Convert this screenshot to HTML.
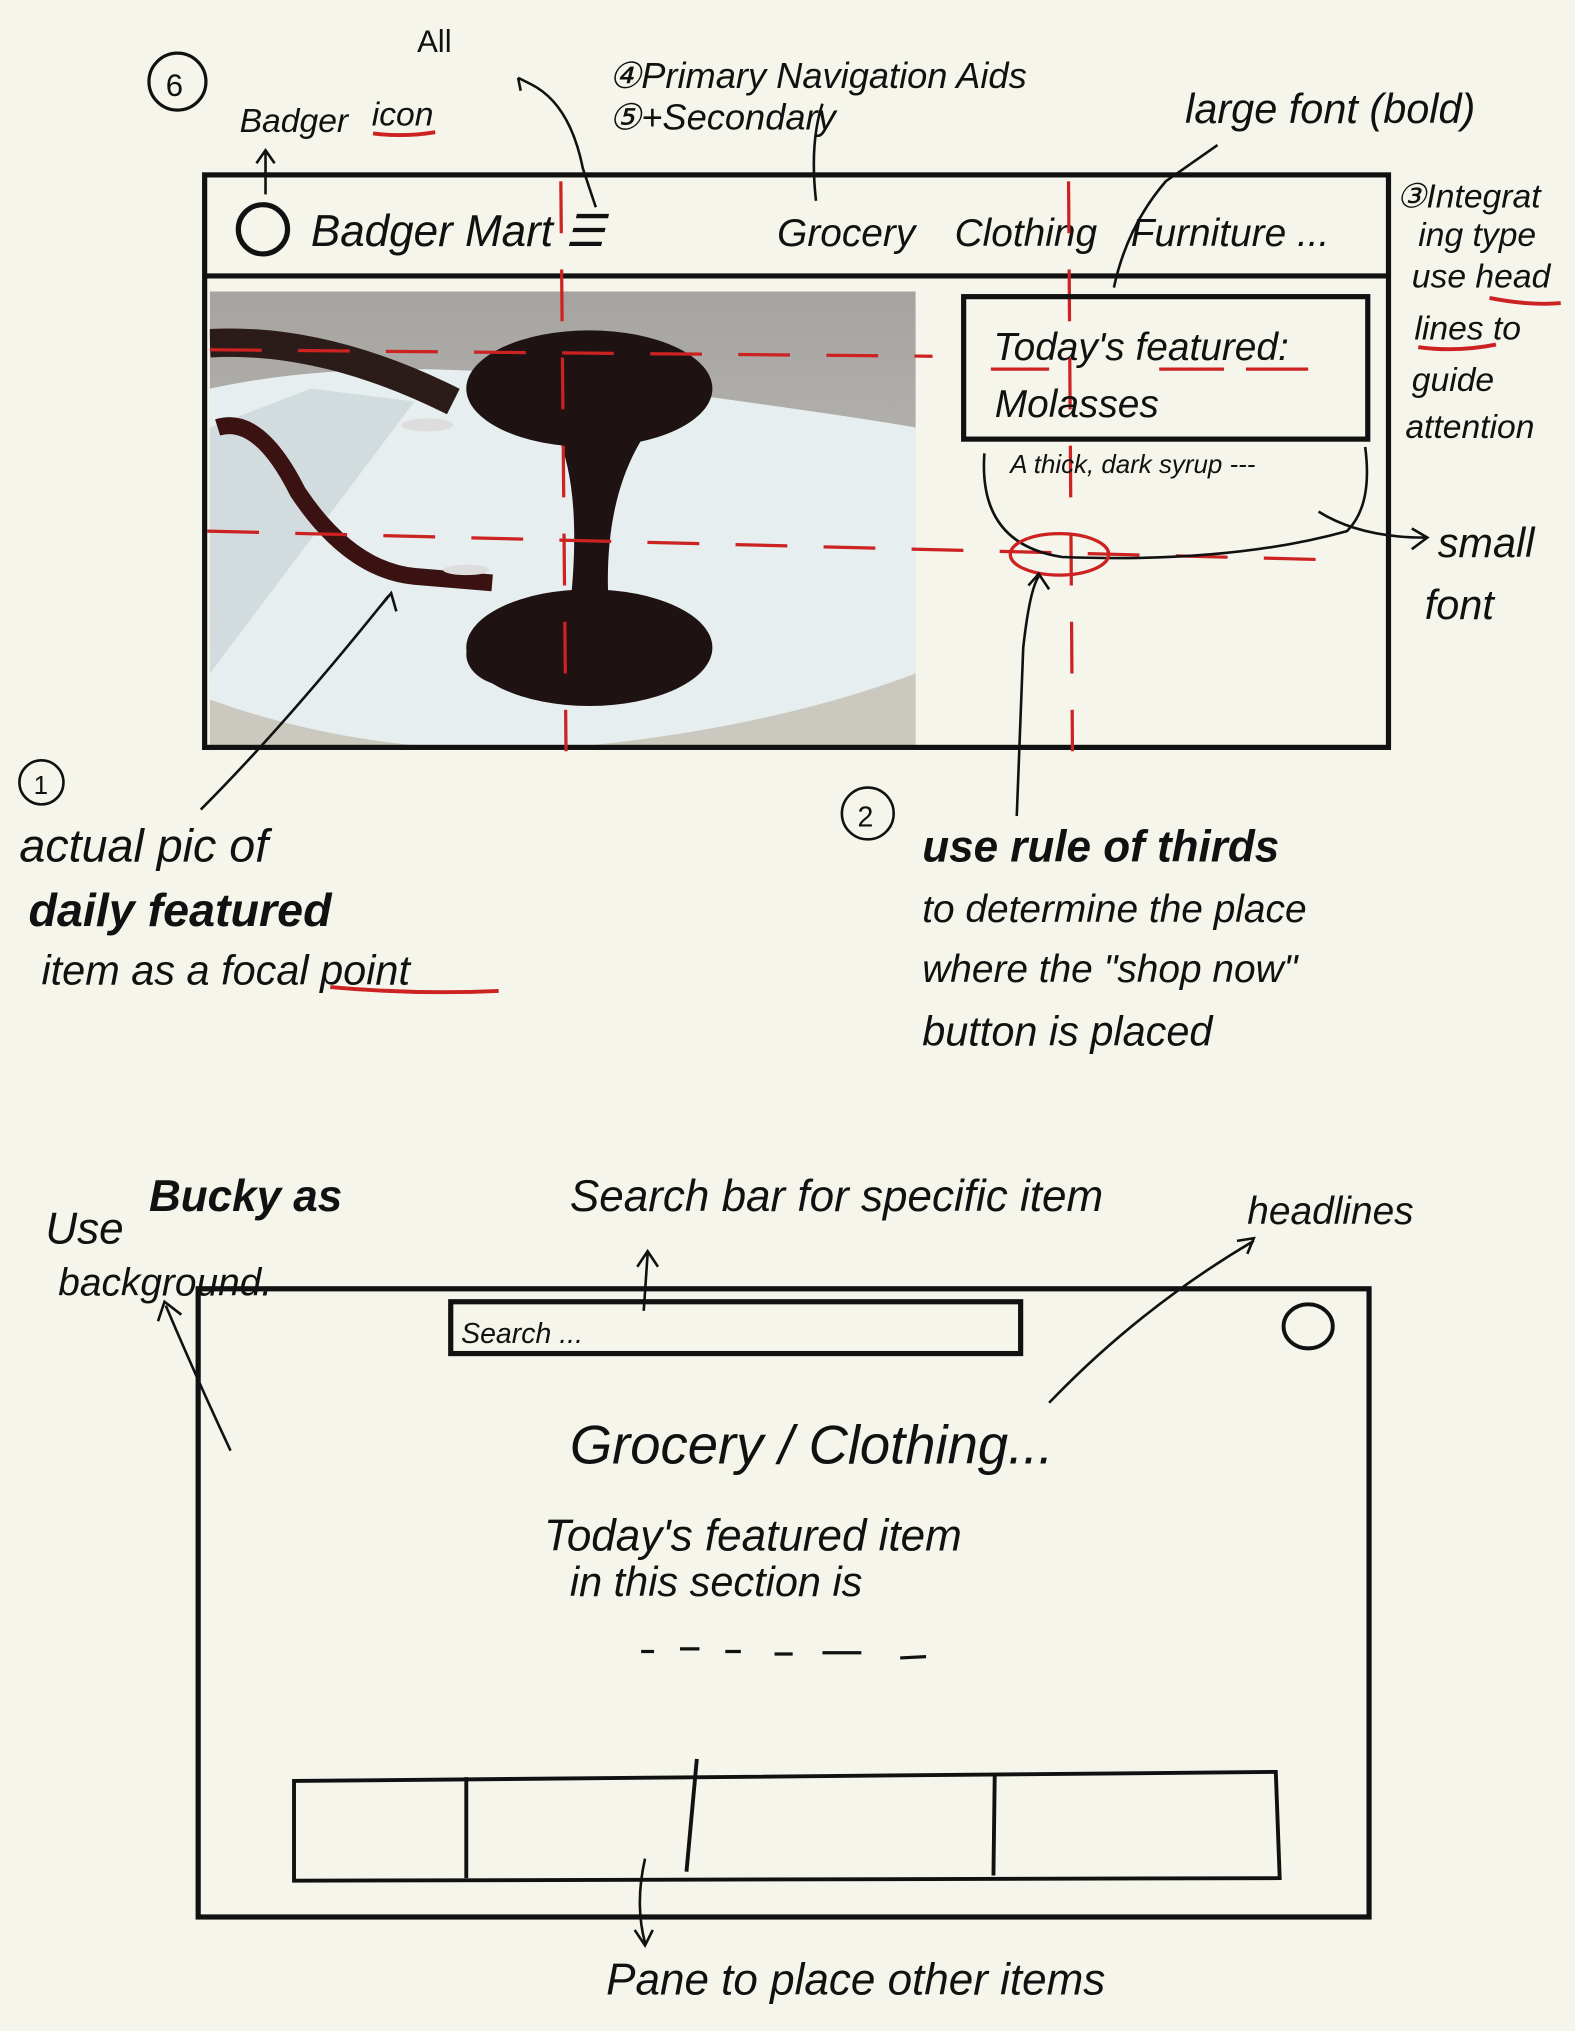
<!DOCTYPE html>
<html><head><meta charset="utf-8"><style>
html,body{margin:0;padding:0;background:#f5f5ec;}
svg{display:block}
text{font-family:"Liberation Sans",sans-serif;fill:#111;}
</style></head><body>
<svg width="1575" height="2031" viewBox="0 0 1216 1568" xmlns="http://www.w3.org/2000/svg">
<rect width="1216" height="1568" fill="#f5f5ec"/>
<defs>
<clipPath id="ph"><rect x="162" y="225" width="545" height="352"/></clipPath>
<linearGradient id="bg" x1="0" y1="0" x2="0" y2="1">
<stop offset="0" stop-color="#a6a4a0"/><stop offset="1" stop-color="#c9c7c2"/>
</linearGradient>
</defs>
<!-- top annotations -->
<circle cx="137" cy="63" r="22" fill="none" stroke="#111" stroke-width="2.5"/>
<text x="128" y="74" font-size="24">6</text>
<text x="322" y="40" font-size="24">All</text>
<text x="185" y="102" font-size="26" font-style="italic">Badger</text>
<text x="287" y="97" font-size="26" font-style="italic">icon</text>
<path d="M288 103 Q312 106 336 102" stroke="#c22" stroke-width="3" fill="none"/>
<path d="M205 150 L205 118 M198 126 L205 116 L212 126" stroke="#111" stroke-width="2" fill="none"/>
<text x="470" y="68" font-size="28" font-style="italic">④Primary Navigation Aids</text>
<text x="470" y="100" font-size="28" font-style="italic">⑤+Secondary</text>
<path d="M400 60 L410 65 Q440 80 450 130 L460 160 M400 60 L402 70" stroke="#111" stroke-width="2" fill="none"/>
<path d="M635 80 Q625 110 630 155" stroke="#111" stroke-width="2" fill="none"/>
<text x="915" y="95" font-size="32" font-style="italic">large font (bold)</text>
<path d="M940 112 L900 140 Q870 175 860 222" stroke="#111" stroke-width="2" fill="none"/>
<text x="1078" y="160" font-size="26" font-style="italic">③Integrat</text>
<text x="1095" y="190" font-size="26" font-style="italic">ing type</text>
<text x="1090" y="222" font-size="26" font-style="italic">use head</text>
<path d="M1150 230 Q1180 236 1205 234" stroke="#c22" stroke-width="3" fill="none"/>
<text x="1092" y="262" font-size="26" font-style="italic">lines to</text>
<path d="M1095 268 Q1125 272 1155 266" stroke="#c22" stroke-width="3" fill="none"/>
<text x="1090" y="302" font-size="26" font-style="italic">guide</text>
<text x="1085" y="338" font-size="26" font-style="italic">attention</text>
<!-- photo -->
<g clip-path="url(#ph)">
<rect x="162" y="225" width="545" height="352" fill="url(#bg)"/>
<path d="M162 300 Q300 270 500 300 Q650 320 707 330 L707 577 L162 577 Z" fill="#e6eeef"/>
<path d="M162 330 L240 300 L320 310 L162 520 Z" fill="#d2dcde"/>
<path d="M162 540 Q300 590 460 575 Q600 560 707 520 L707 577 L162 577 Z" fill="#cbc9bf"/>
<path d="M162 265 Q250 260 350 310" stroke="#2b1c1a" stroke-width="22" fill="none"/>
<ellipse cx="455" cy="300" rx="95" ry="45" fill="#1e1213"/>
<path d="M430 335 Q450 380 440 470 L470 470 Q465 390 495 340 Z" fill="#1e1213"/>
<ellipse cx="455" cy="500" rx="95" ry="45" fill="#1e1213"/>
<ellipse cx="395" cy="505" rx="35" ry="25" fill="#1e1213"/>
<path d="M168 330 Q200 320 230 380 Q270 440 320 445 L380 450" stroke="#3a1212" stroke-width="13" fill="none"/>
<ellipse cx="330" cy="328" rx="20" ry="5" fill="#ddd"/>
<ellipse cx="360" cy="440" rx="18" ry="4" fill="#ddd"/>
</g>
<!-- main frame -->
<rect x="158" y="135" width="914" height="442" fill="none" stroke="#111" stroke-width="4"/>
<line x1="158" y1="213" x2="1072" y2="213" stroke="#111" stroke-width="4"/>
<circle cx="203" cy="177" r="19" fill="none" stroke="#111" stroke-width="4"/>
<text x="240" y="190" font-size="34" font-style="italic">Badger Mart ☰</text>
<text x="600" y="190" font-size="30" font-style="italic">Grocery</text>
<text x="737" y="190" font-size="30" font-style="italic">Clothing</text>
<text x="873" y="190" font-size="30" font-style="italic">Furniture ...</text>
<!-- thirds lines -->
<g stroke="#c22" stroke-width="2.5" stroke-dasharray="40 28" fill="none">
<line x1="162" y1="270" x2="720" y2="275"/>
<line x1="160" y1="410" x2="1020" y2="432"/>
<line x1="433" y1="140" x2="437" y2="580"/>
<line x1="825" y1="140" x2="828" y2="580"/>
</g>
<!-- featured box -->
<rect x="744" y="229" width="312" height="110" fill="none" stroke="#111" stroke-width="4"/>
<text x="767" y="278" font-size="30" font-style="italic">Today's featured:</text>
<path d="M765 285 L810 285 M895 285 L945 285 M962 285 L1010 285" stroke="#c22" stroke-width="2.5"/>
<text x="768" y="322" font-size="30" font-style="italic">Molasses</text>
<text x="780" y="365" font-size="20" font-style="italic">A thick, dark syrup ---</text>
<path d="M760 350 Q755 420 820 430 Q950 435 1040 410 Q1060 390 1054 345" stroke="#111" stroke-width="2" fill="none"/>
<ellipse cx="818" cy="428" rx="38" ry="16" fill="none" stroke="#c22" stroke-width="2.5"/>
<path d="M1018 395 Q1050 415 1100 415 M1090 408 L1102 415 L1090 424" stroke="#111" stroke-width="2" fill="none"/>
<text x="1110" y="430" font-size="32" font-style="italic">small</text>
<text x="1100" y="478" font-size="32" font-style="italic">font</text>
<path d="M785 630 L790 500 Q795 455 802 445 M794 452 L802 443 L810 455" stroke="#111" stroke-width="2" fill="none"/>
<path d="M155 625 Q220 560 300 460 M292 470 L302 458 L306 472" stroke="#111" stroke-width="2" fill="none"/>
<circle cx="32" cy="604" r="17" fill="none" stroke="#111" stroke-width="2"/><text x="26" y="613" font-size="20">1</text>
<text x="15" y="665" font-size="36" font-style="italic">actual pic of</text>
<text x="22" y="715" font-size="36" font-style="italic" font-weight="bold">daily featured</text>
<text x="32" y="760" font-size="32" font-style="italic">item as a focal point</text>
<path d="M255 762 Q320 768 385 765" stroke="#c22" stroke-width="3" fill="none"/>
<circle cx="670" cy="628" r="20" fill="none" stroke="#111" stroke-width="2"/><text x="662" y="638" font-size="22">2</text>
<text x="712" y="665" font-size="34" font-style="italic" font-weight="bold">use rule of thirds</text>
<text x="712" y="712" font-size="30" font-style="italic">to determine the place</text>
<text x="712" y="758" font-size="30" font-style="italic">where the "shop now"</text>
<text x="712" y="807" font-size="32" font-style="italic">button is placed</text>
<!-- bottom sketch -->
<text x="35" y="960" font-size="34" font-style="italic">Use</text>
<text x="115" y="935" font-size="34" font-style="italic" font-weight="bold">Bucky as</text>
<text x="45" y="1000" font-size="30" font-style="italic">background.</text>
<path d="M178 1120 Q150 1060 128 1008 M122 1020 L127 1005 L140 1015" stroke="#111" stroke-width="2" fill="none"/>
<text x="440" y="935" font-size="34" font-style="italic">Search bar for specific item</text>
<path d="M497 1012 L500 968 M492 978 L500 966 L508 978" stroke="#111" stroke-width="2" fill="none"/>
<text x="963" y="945" font-size="30" font-style="italic">headlines</text>
<path d="M810 1083 Q880 1010 968 958 M955 958 L968 956 L963 968" stroke="#111" stroke-width="2" fill="none"/>
<rect x="153" y="995" width="904" height="485" fill="none" stroke="#111" stroke-width="4"/>
<rect x="348" y="1005" width="440" height="40" fill="none" stroke="#111" stroke-width="4"/>
<text x="356" y="1037" font-size="22" font-style="italic">Search ...</text>
<ellipse cx="1010" cy="1024" rx="19" ry="17" fill="none" stroke="#111" stroke-width="3"/>
<text x="440" y="1130" font-size="42" font-style="italic">Grocery / Clothing...</text>
<text x="420" y="1197" font-size="34" font-style="italic">Today's featured item</text>
<text x="440" y="1232" font-size="32" font-style="italic">in this section is</text>
<path d="M495 1275 L505 1275 M525 1273 L540 1273 M560 1275 L572 1275 M598 1277 L612 1277 M635 1276 L665 1276 M695 1280 L715 1279" stroke="#111" stroke-width="2.5"/>
<path d="M227 1375 L985 1368 L988 1450 L227 1452 Z" fill="none" stroke="#111" stroke-width="3"/>
<path d="M360 1372 L360 1450 M538 1358 L530 1445 M768 1370 L767 1448" stroke="#111" stroke-width="3"/>
<path d="M498 1435 Q490 1470 498 1500 M490 1490 L498 1502 L504 1490" stroke="#111" stroke-width="2" fill="none"/>
<text x="468" y="1540" font-size="34" font-style="italic">Pane to place other items</text>
</svg>
</body></html>
